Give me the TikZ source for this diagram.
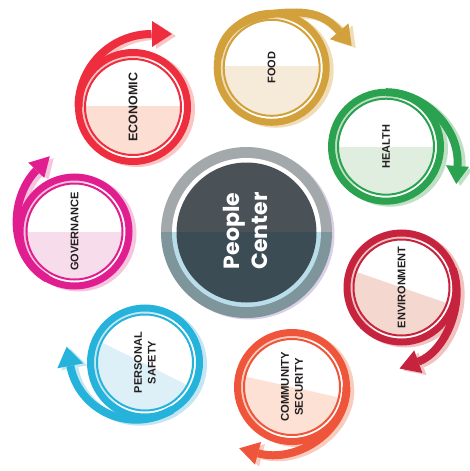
\documentclass[tikz,border=0pt]{standalone}
\usepackage{fontspec}
\newfontfamily\labfont{Liberation Sans}
\newfontfamily\hubfont{Poppins}

% hub colours
\definecolor{hubRingTop}{HTML}{A3A8AB}
\definecolor{hubRingBot}{HTML}{7F959C}
\definecolor{hubTop}{HTML}{4A5258}
\definecolor{hubBot}{HTML}{3C4C55}
\definecolor{hubLine}{HTML}{B9DEEA}
\definecolor{hubShade}{HTML}{D9CFE6}
\definecolor{ink}{HTML}{231F20}
% ring, tint and shadow colours of the seven themes
\definecolor{ecoR}{HTML}{EE2D3E}\definecolor{ecoT}{HTML}{FCDED3}\definecolor{ecoS}{HTML}{F9C6C3}
\definecolor{foodR}{HTML}{D3A13B}\definecolor{foodT}{HTML}{F6EAD8}\definecolor{foodS}{HTML}{EFDDB8}
\definecolor{healthR}{HTML}{2BA24F}\definecolor{healthT}{HTML}{E0EEE0}\definecolor{healthS}{HTML}{BFE0C5}
\definecolor{envR}{HTML}{C6233F}\definecolor{envT}{HTML}{F4D8D0}\definecolor{envS}{HTML}{F0C3C0}
\definecolor{comR}{HTML}{EE553A}\definecolor{comT}{HTML}{FDE1D5}\definecolor{comS}{HTML}{F9CDBE}
\definecolor{safR}{HTML}{25B2DB}\definecolor{safT}{HTML}{DDF0F7}\definecolor{safS}{HTML}{C4E6F2}
\definecolor{govR}{HTML}{E01E8F}\definecolor{govT}{HTML}{F7DCEB}\definecolor{govS}{HTML}{F5C4DF}

% white disc with a tinted lower part, thin inner ring and thick outer ring
% #1 centre, #2 ring colour, #3 tint, #4 cut angle, #5 vertical offset of the cut
\newcommand\discbody[5]{%
  \fill[white] (#1) circle (47);
  \begin{scope}
    \clip (#1) circle (47);
    \fill[#3] ([shift={(0,#5)}]#1) ++(#4:70) -- ++(#4+90:70) -- ++(#4+180:140) -- ++(#4-90:70) -- cycle;
  \end{scope}
  \draw[thinring,#2] (#1) circle (48);
  \draw[ringband,#2] (#1) circle (54.5);}

% arrow head: #1 base centre, #2 direction, #3 half width, #4 length, #5 colour
\newcommand\tipat[5]{\fill[#5] (#1) +(#2+90:#3) -- +(#2-90:#3) -- +(#2:#4) -- cycle;}

\begin{document}
\begin{tikzpicture}[x=1pt,y=-1pt,
  ringband/.style={line width=7pt},
  thinring/.style={line width=2pt},
  spiral/.style={line width=8pt,line cap=butt},
  shade/.style={transform canvas={xshift=4pt,yshift=-2pt}},
  tag/.style={rotate=90,align=center,inner sep=0pt,text=ink,
    font=\labfont\bfseries\fontsize{11}{13.6}\selectfont},
]
\useasboundingbox (0,0) rectangle (470,471);

% ---------- hub ----------
\coordinate (ctr) at (246.5,232.5);
\fill[hubShade] ([shift={(2.5,1.5)}]ctr) circle (85.5);
\begin{scope}
  \clip (0,0) rectangle (470,232.5);
  \fill[hubRingTop] (ctr) circle (85.5);
  \fill[white] (ctr) circle (74.5);
  \fill[hubTop] (ctr) circle (70);
\end{scope}
\begin{scope}
  \clip (0,232.5) rectangle (470,471);
  \fill[hubRingBot] (ctr) circle (85.5);
  \fill[hubLine] (ctr) circle (74.5);
  \fill[hubBot] (ctr) circle (70);
\end{scope}
\node[rotate=90,align=center,inner sep=0pt,text=white,
  font=\hubfont\bfseries\fontsize{22}{28}\selectfont] (hub) at (245,231) {People\\Center};

% ---------- economic ----------
\coordinate (eco) at (133,107);
\coordinate (ecoE) at (152,34);
\def\ecoband{([shift={(180:54.5)}]eco) arc[start angle=180,end angle=270,radius=73]}
\begin{scope}[shade]
  \draw[ringband,ecoS] (eco) circle (54.5);
  \draw[spiral,ecoS] \ecoband;
  \tipat{ecoE}{0}{13}{20}{ecoS}
\end{scope}
\discbody{eco}{ecoR}{ecoT}{0}{-1}
\draw[spiral,ecoR] \ecoband;
\tipat{ecoE}{0}{13}{20}{ecoR}
\node[tag,font=\labfont\bfseries\fontsize{12.5}{14}\selectfont] (ecoL) at (eco) {ECONOMIC};

% ---------- food ----------
\coordinate (food) at (271.7,67.8);
\coordinate (foodM) at (296,12.5);
\coordinate (foodE) at (339.2,31.3);
\def\foodband{([shift={(190:54.5)}]food) .. controls +(280:38) and +(180:38) .. (foodM)
  .. controls +(0:20) and +(229.6:16) .. (foodE)}
\begin{scope}[shade]
  \draw[ringband,foodS] (food) circle (54.5);
  \draw[spiral,foodS] \foodband;
  \tipat{foodE}{49.6}{12.2}{19.3}{foodS}
\end{scope}
\discbody{food}{foodR}{foodT}{0}{-2}
\draw[spiral,foodR] \foodband;
\tipat{foodE}{49.6}{12.2}{19.3}{foodR}
\node[tag] (foodL) at (food) {FOOD};

% ---------- health ----------
\coordinate (health) at (386,146.7);
\coordinate (healthE) at (457.5,166);
\def\healthband{([shift={(270:54.5)}]health) .. controls +(0:38) and +(274:38) .. (healthE)}
\begin{scope}[shade]
  \draw[ringband,healthS] (health) circle (54.5);
  \draw[spiral,healthS] \healthband;
  \tipat{healthE}{94}{11.5}{18}{healthS}
\end{scope}
\discbody{health}{healthR}{healthT}{0}{0}
\draw[spiral,healthR] \healthband;
\tipat{healthE}{94}{11.5}{18}{healthR}
\node[tag] (healthL) at (health) {HEALTH};

% ---------- environment ----------
\coordinate (env) at (401.5,287.5);
\coordinate (envE) at (418.3,361.7);
\def\envband{([shift={(-20:54.5)}]env) .. controls +(70:38) and +(340:28) .. (envE)}
\begin{scope}[shade]
  \draw[ringband,envS] (env) circle (54.5);
  \draw[spiral,envS] \envband;
  \tipat{envE}{160}{12}{20}{envS}
\end{scope}
\discbody{env}{envR}{envT}{19}{0}
\draw[spiral,envR] \envband;
\tipat{envE}{160}{12}{20}{envR}
\node[tag] (envL) at (env) {ENVIRONMENT};

% ---------- community security ----------
\coordinate (com) at (292,387);
\coordinate (comE) at (258,453.3);
\def\comband{([shift={(0:54.5)}]com) .. controls +(90:45) and +(15:40) .. (comE)}
\begin{scope}[shade]
  \draw[ringband,comS] (com) circle (54.5);
  \draw[spiral,comS] \comband;
  \tipat{comE}{195}{11.7}{19.4}{comS}
\end{scope}
\discbody{com}{comR}{comT}{12.6}{0}
\draw[spiral,comR] \comband;
\tipat{comE}{195}{11.7}{19.4}{comR}
\node[tag,font=\labfont\bfseries\fontsize{11.3}{14}\selectfont] (comL) at (com) {COMMUNITY\\SECURITY};

% ---------- personal safety ----------
\coordinate (saf) at (145,362.5);
\coordinate (safE) at (70.3,365.8);
\def\safband{([shift={(60:54.5)}]saf) .. controls +(150:50) and +(79.3:45) .. (safE)}
\begin{scope}[shade]
  \draw[ringband,safS] (saf) circle (54.5);
  \draw[spiral,safS] \safband;
  \tipat{safE}{259.3}{13.2}{19.4}{safS}
\end{scope}
\discbody{saf}{safR}{safT}{26.6}{1.5}
\draw[spiral,safR] \safband;
\tipat{safE}{259.3}{13.2}{19.4}{safR}
\node[tag] (safL) at (saf) {PERSONAL\\SAFETY};

% ---------- governance ----------
\coordinate (gov) at (74.5,231.5);
\coordinate (govE) at (36.3,170.3);
\def\govband{([shift={(120:54.5)}]gov) .. controls +(210:45) and +(133.8:40) .. (govE)}
\begin{scope}[shade]
  \draw[ringband,govS] (gov) circle (54.5);
  \draw[spiral,govS] \govband;
  \tipat{govE}{313.8}{11}{19.5}{govS}
\end{scope}
\discbody{gov}{govR}{govT}{0}{0}
\draw[spiral,govR] \govband;
\tipat{govE}{313.8}{11}{19.5}{govR}
\node[tag] (govL) at (gov) {GOVERNANCE};
\end{tikzpicture}
\end{document}
